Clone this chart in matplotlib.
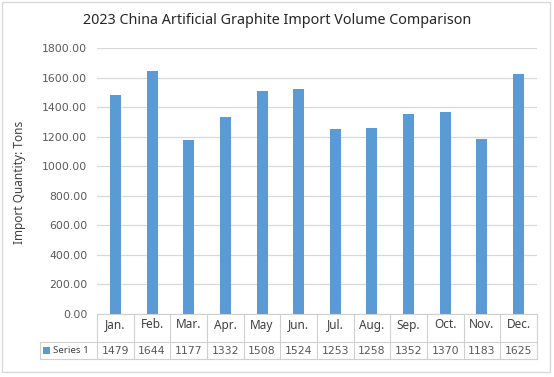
import matplotlib
matplotlib.use("Agg")
import matplotlib.pyplot as plt
from matplotlib.patches import Rectangle
from matplotlib.lines import Line2D

title = "2023 China Artificial Graphite Import Volume Comparison"
ylabel = "Import Quantity: Tons"
series_name = "Series 1"
months = ["Jan.", "Feb.", "Mar.", "Apr.", "May", "Jun.", "Jul.", "Aug.", "Sep.", "Oct.", "Nov.", "Dec."]
values = [1479, 1644, 1177, 1332, 1508, 1524, 1253, 1258, 1352, 1370, 1183, 1625]
yticks = [0, 200, 400, 600, 800, 1000, 1200, 1400, 1600, 1800]

W, H = 554, 377
fig = plt.figure(figsize=(W / 100, H / 100), dpi=100)
fig.patch.set_facecolor("white")

bar_color = "#5b9bd5"
grid_color = "#d9d9d9"
text_color = "#404040"
font = ["Noto Sans", "DejaVu Sans"]

# outer border
fig.add_artist(Rectangle((2 / W, 1 - 372 / H), 548 / W, 370 / H, transform=fig.transFigure,
                         fill=False, edgecolor="#d9d9d9", linewidth=1.0))

left, right = 97 / W, 537 / W
bottom, top = 1 - 314 / H, 1 - 48 / H
ax = fig.add_axes([left, bottom, right - left, top - bottom])
x = list(range(len(months)))
ax.bar(x, values, width=0.3, color=bar_color, zorder=3)
ax.set_xlim(-0.5, len(months) - 0.5)
ax.set_ylim(0, 1800)
ax.set_yticks(yticks)
ax.set_yticklabels([f"{v:.2f}" for v in yticks], fontsize=7.8, color="#595959", family=["DejaVu Sans"])
ax.tick_params(axis="y", length=0, pad=7)
ax.set_xticks([])
ax.grid(axis="y", color=grid_color, linewidth=0.9, zorder=0)
for s in ax.spines.values():
    s.set_visible(False)
ax.set_facecolor("none")

# data table
def fy(py):
    return 1 - py / H

def fx(px):
    return px / W

tcol = "#d0d0d0"
row1_top, row1_bot, row2_bot = 314, 342, 359
col_w = (537 - 97) / len(months)
fig.add_artist(Line2D([fx(97), fx(537)], [fy(row1_top)] * 2, color=tcol, lw=0.8))
fig.add_artist(Line2D([fx(40), fx(537)], [fy(row1_bot)] * 2, color=tcol, lw=0.8))
fig.add_artist(Line2D([fx(40), fx(537)], [fy(row2_bot)] * 2, color=tcol, lw=0.8))
fig.add_artist(Line2D([fx(40), fx(40)], [fy(row1_bot), fy(row2_bot)], color=tcol, lw=0.8))
for i in range(len(months) + 1):
    px = 97 + i * col_w
    fig.add_artist(Line2D([fx(px), fx(px)], [fy(row1_top), fy(row2_bot)], color=tcol, lw=0.8))

for i, (m, v) in enumerate(zip(months, values)):
    cx = 97 + (i + 0.5) * col_w
    fig.text(fx(cx), fy(325), m, ha="center", va="center", fontsize=8.5, color=text_color, family=font)
    fig.text(fx(cx), fy(350.5), str(v), ha="center", va="center", fontsize=7.8, color="#595959",
             family=["DejaVu Sans"])

# legend key in table
fig.add_artist(Rectangle((fx(43), fy(354)), 7 / W, 7 / H, transform=fig.transFigure,
                         facecolor=bar_color, edgecolor="none"))
fig.text(fx(53), fy(350.5), series_name, ha="left", va="center", fontsize=7, color=text_color, family=font)

fig.text(0.5, fy(20), title, ha="center", va="center", fontsize=10.3, color="#262626", family=font)
fig.text(fx(20), fy(182), ylabel, ha="center", va="center", rotation=90, fontsize=8.5,
         color=text_color, family=font)

fig.savefig("out.png", dpi=100)
